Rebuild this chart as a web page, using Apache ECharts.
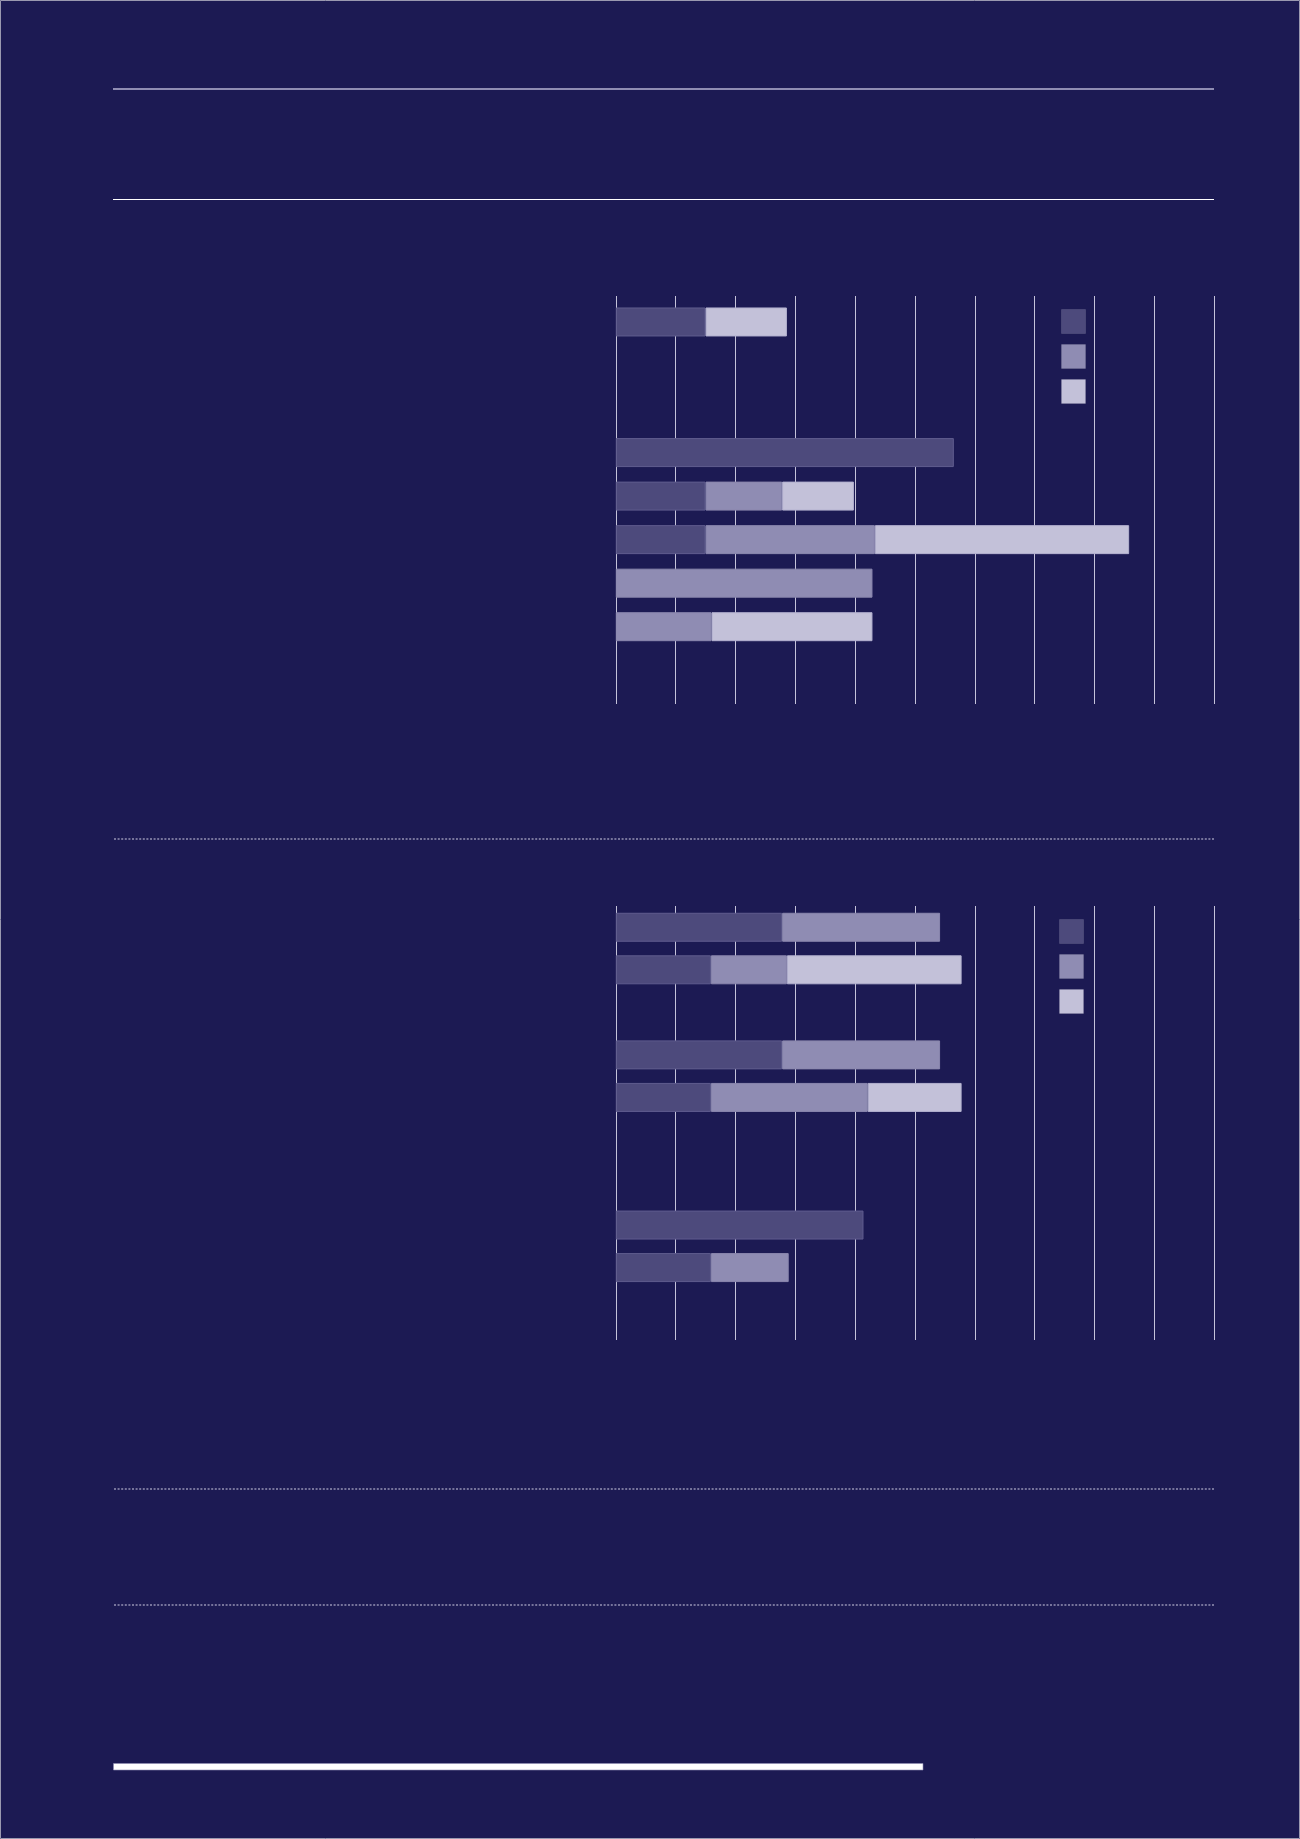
<!DOCTYPE html>
<html>
<head>
<meta charset="utf-8">
<script src="https://cdn.jsdelivr.net/npm/echarts@6/dist/echarts.min.js"></script>
<style>
  html, body { margin: 0; padding: 0; background: #1c1a53; }
  #chart { width: 1300px; height: 1839px; }
</style>
</head>
<body>
<div id="chart"></div>
<script>
// rows of the upper chart (top to bottom), blank rows kept as gaps
const rowsTop = ['1', '2', '3', '4', '5', '6', '7', '8', '9'];
const darkTop = [15.0, null, null, 56.5, 15.0, 15.0, null, null, null];
const midTop = [null, null, null, null, 12.8, 28.3, 42.9, 16.0, null];
const lightTop = [13.6, null, null, null, 12.0, 42.5, null, 26.9, null];

// rows of the lower chart
const rowsBottom = ['1', '2', '3', '4', '5', '6', '7', '8', '9', '10'];
const darkBottom = [27.8, 15.9, null, 27.8, 15.9, null, null, 41.4, 15.9, null];
const midBottom = [26.4, 12.7, null, 26.4, 26.2, null, null, null, 13.0, null];
const lightBottom = [null, 29.2, null, null, 15.7, null, null, null, null, null];

const seriesNames = ['S1', 'S2', 'S3'];
const colors = ['#4d4a7c', '#8f8cb3', '#c3c1d9'];
const borders = ['#5f5c8e', '#8a87ae', '#b3b1cf'];

const bg = '#1c1a53';
const plotLeft = 615.8;
const plotWidth = 598.3;

function gridAxis(idx) {
  return {
    type: 'value', gridIndex: idx, min: 0, max: 100, interval: 10,
    axisLine: { show: false }, axisTick: { show: false }, axisLabel: { show: false },
    splitLine: { show: idx % 2 === 0, lineStyle: { color: '#c4c2da', width: 1 } }
  };
}

function catAxis(idx, data) {
  return {
    type: 'category', gridIndex: idx, data: data, inverse: true,
    axisLine: { show: false }, axisTick: { show: false }, axisLabel: { show: false },
    splitLine: { show: false }
  };
}

function barSeries(i, axisIdx, values, stack) {
  return {
    name: seriesNames[i], type: 'bar', stack: stack,
    xAxisIndex: axisIdx, yAxisIndex: axisIdx,
    barWidth: 29, data: values,
    itemStyle: { color: colors[i], borderColor: borders[i], borderWidth: 1 },
    emphasis: { disabled: true }
  };
}

function legendAt(left, top) {
  return {
    left: left, top: top, orient: 'vertical', padding: 0,
    itemWidth: 24, itemHeight: 24, itemGap: 10,
    icon: 'rect', data: seriesNames, selectedMode: false,
    formatter: function () { return ''; },
    textStyle: { color: bg, fontSize: 1 },
    itemStyle: { borderColor: 'rgba(255,255,255,0.1)', borderWidth: 1 }
  };
}

function hline(y, x1, x2, color, width, dash) {
  return {
    type: 'line', silent: true,
    shape: { x1: x1, y1: y, x2: x2, y2: y },
    style: { stroke: color, lineWidth: width, lineDash: dash || null }
  };
}

const chart = echarts.init(document.getElementById('chart'));
chart.setOption({
  backgroundColor: bg,
  animation: false,
  grid: [
    { left: plotLeft, top: 296, width: plotWidth, height: 408 },
    { left: plotLeft, top: 300.2, width: plotWidth, height: 391.8 },
    { left: plotLeft, top: 906, width: plotWidth, height: 434 },
    { left: plotLeft, top: 906, width: plotWidth, height: 425.4 }
  ],
  xAxis: [gridAxis(0), gridAxis(1), gridAxis(2), gridAxis(3)],
  yAxis: [
    catAxis(0, rowsTop), catAxis(1, rowsTop),
    catAxis(2, rowsBottom), catAxis(3, rowsBottom)
  ],
  legend: [legendAt(1061, 309), legendAt(1059, 919)],
  series: [
    barSeries(0, 1, darkTop, 'top'),
    barSeries(1, 1, midTop, 'top'),
    barSeries(2, 1, lightTop, 'top'),
    barSeries(0, 3, darkBottom, 'bottom'),
    barSeries(1, 3, midBottom, 'bottom'),
    barSeries(2, 3, lightBottom, 'bottom')
  ],
  graphic: [
    {
      type: 'rect', silent: true,
      shape: { x: 0.5, y: 0.5, width: 1299, height: 1838 },
      style: { fill: null, stroke: '#9a99b0', lineWidth: 1 }
    },
    hline(89, 113, 1214, '#b6b4d2', 1.5),
    hline(199.5, 113, 1214, '#ffffff', 1.2),
    hline(839, 114, 1214, '#d0cee4', 1.2, [2, 1.6]),
    hline(1489, 114, 1214, '#d0cee4', 1.2, [2, 1.6]),
    hline(1605, 114, 1214, '#d0cee4', 1.2, [2, 1.6]),
    {
      type: 'rect', silent: true,
      shape: { x: 113.5, y: 1763.5, width: 809.5, height: 6.5 },
      style: { fill: '#ffffff', stroke: '#8f8cb3', lineWidth: 0.6 }
    }
  ]
});
</script>
</body>
</html>
